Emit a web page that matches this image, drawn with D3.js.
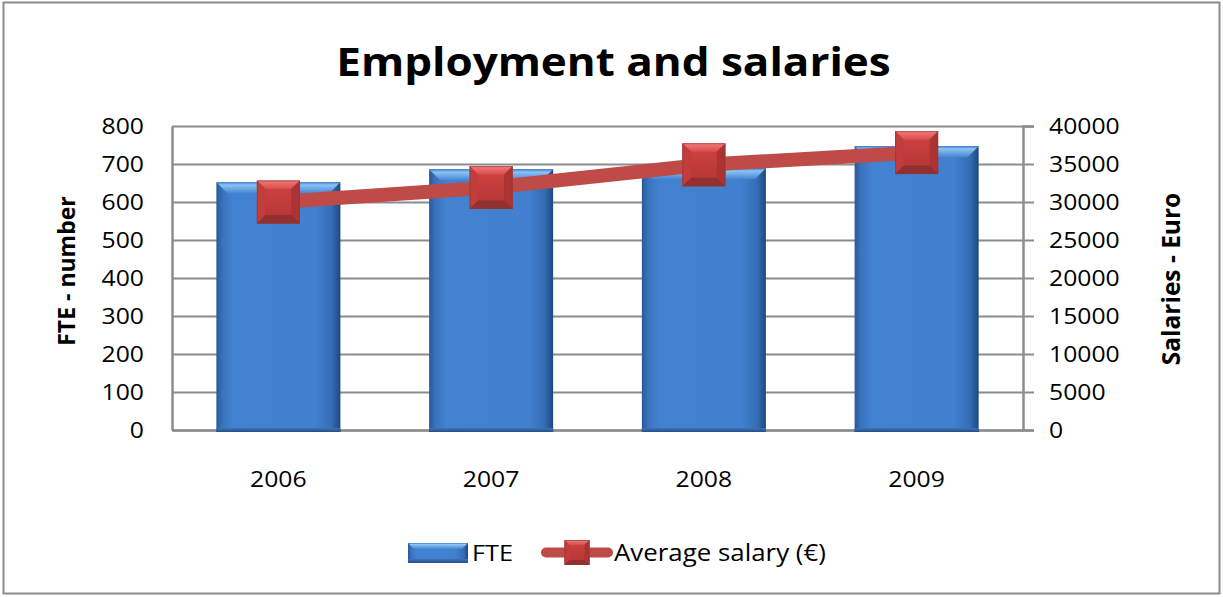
<!DOCTYPE html>
<html>
<head>
<meta charset="utf-8">
<script src="https://cdn.jsdelivr.net/npm/d3@7"></script>
<style>
  html, body { margin: 0; padding: 0; background: #fff; }
  svg { display: block; font-family: "Open Sans", "Liberation Sans", sans-serif; }
</style>
</head>
<body>
<svg id="chart" width="1223" height="597"></svg>
<script>
// Data
const years = ["2006", "2007", "2008", "2009"];
const fte = [652, 686, 689, 747];
const salary = [30000, 31900, 34900, 36500];
const fteTicks = [0, 100, 200, 300, 400, 500, 600, 700, 800];
const salaryTicks = [0, 5000, 10000, 15000, 20000, 25000, 30000, 35000, 40000];

const W = 1223, H = 597;
const plot = { left: 172, right: 1023, top: 126, bottom: 430 };
const SX = 1.15; // horizontal text stretch

const svg = d3.select("#chart");
const defs = svg.append("defs");

// Bar body: dark edges, bright middle
const gBar = defs.append("linearGradient").attr("id", "barBody")
  .attr("x1", 0).attr("x2", 1).attr("y1", 0).attr("y2", 0);
[["0%", "#2a5a96"], ["5%", "#3a72bd"], ["14%", "#4282d1"], ["80%", "#4080cf"], ["93%", "#356db4"], ["100%", "#1d4880"]]
  .forEach(([o, c]) => gBar.append("stop").attr("offset", o).attr("stop-color", c));
const gTop = defs.append("linearGradient").attr("id", "barTop")
  .attr("x1", 0).attr("x2", 0).attr("y1", 0).attr("y2", 1);
[["0%", "#3f7cc8"], ["25%", "#8cc4f5"], ["100%", "#4784d3"]]
  .forEach(([o, c]) => gTop.append("stop").attr("offset", o).attr("stop-color", c));
const gBottom = defs.append("linearGradient").attr("id", "barBottom")
  .attr("x1", 0).attr("x2", 0).attr("y1", 0).attr("y2", 1);
[["0%", "#3d73b8"], ["100%", "#254f86"]]
  .forEach(([o, c]) => gBottom.append("stop").attr("offset", o).attr("stop-color", c));

// Marker bevels
const gMTop = defs.append("linearGradient").attr("id", "mkTop")
  .attr("x1", 0).attr("x2", 0).attr("y1", 0).attr("y2", 1);
[["0%", "#f47c7a"], ["100%", "#d64c4a"]]
  .forEach(([o, c]) => gMTop.append("stop").attr("offset", o).attr("stop-color", c));
const gMBody = defs.append("linearGradient").attr("id", "mkBody")
  .attr("x1", 0).attr("x2", 0).attr("y1", 0).attr("y2", 1);
[["0%", "#cf4241"], ["100%", "#b33535"]]
  .forEach(([o, c]) => gMBody.append("stop").attr("offset", o).attr("stop-color", c));

// Outer frame
svg.append("rect").attr("x", 3.5).attr("y", 2.5).attr("width", W - 7).attr("height", H - 6)
  .attr("fill", "#fff").attr("stroke", "#8c8c8c").attr("stroke-width", 2);

// Scales
const x = d3.scaleBand().domain(years).range([plot.left, plot.right])
  .paddingInner(0.417).paddingOuter(0.2085);
const yL = d3.scaleLinear().domain([0, 800]).range([plot.bottom, plot.top]);
const yR = d3.scaleLinear().domain([0, 40000]).range([plot.bottom, plot.top]);

// Gridlines
svg.append("g").attr("class", "grid")
  .attr("transform", `translate(${plot.left},0)`)
  .call(d3.axisLeft(yL).tickValues(fteTicks).tickSize(-(plot.right - plot.left)).tickFormat(""))
  .call(g => g.select(".domain").remove())
  .call(g => g.selectAll("line").attr("stroke", "#8c8c8c").attr("stroke-width", 2));

// Stretched text helper
function label(parent, tx, ty, str, opts = {}) {
  return parent.append("text")
    .attr("transform", `translate(${tx},${ty}) scale(${opts.sx || SX},1)`)
    .attr("text-anchor", opts.anchor || "start")
    .attr("font-size", opts.size || 21.5)
    .attr("font-weight", opts.weight || "normal")
    .attr("fill", "#000")
    .text(str);
}

// Left axis
const axL = svg.append("g").attr("transform", `translate(${plot.left},0)`)
  .call(d3.axisLeft(yL).tickValues(fteTicks).tickSize(0).tickFormat(""));
axL.select(".domain").attr("stroke", "#8c8c8c").attr("stroke-width", 2.5);
fteTicks.forEach(v => label(svg, 144, yL(v) + 8, d3.format("d")(v), { anchor: "end" }));

// Right axis
const axR = svg.append("g").attr("transform", `translate(${plot.right},0)`)
  .call(d3.axisRight(yR).tickValues(salaryTicks).tickSize(11).tickFormat(""));
axR.select(".domain").attr("stroke", "#8c8c8c").attr("stroke-width", 2.5);
axR.selectAll(".tick line").attr("stroke", "#8c8c8c").attr("stroke-width", 2);
salaryTicks.forEach(v => label(svg, 1049, yR(v) + 8, d3.format("d")(v)));

// Bottom axis
const axB = svg.append("g").attr("transform", `translate(0,${plot.bottom})`)
  .call(d3.axisBottom(x).tickSize(0).tickFormat(""));
axB.select(".domain").attr("stroke", "#8c8c8c").attr("stroke-width", 2.5);
years.forEach(yr => label(svg, x(yr) + x.bandwidth() / 2, 487, yr, { anchor: "middle" }));

// 3D-style bar
function drawBar(g, bx, by, bw, bh, bevel) {
  g.append("rect").attr("x", bx).attr("y", by).attr("width", bw).attr("height", bh)
    .attr("fill", "url(#barBody)");
  const b = Math.min(bevel, bh / 2);
  g.append("path")
    .attr("d", `M${bx},${by}H${bx + bw}L${bx + bw - b},${by + b}H${bx + b}Z`)
    .attr("fill", "url(#barTop)");
  const bb = Math.min(4, bh / 4);
  g.append("rect").attr("x", bx).attr("y", by + bh - bb).attr("width", bw).attr("height", bb)
    .attr("fill", "url(#barBottom)");
}

const bars = svg.append("g").attr("class", "bars");
years.forEach((yr, i) => {
  drawBar(bars, x(yr), yL(fte[i]), x.bandwidth(), plot.bottom + 2 - yL(fte[i]), 11);
});

// Salary line
const cx = yr => x(yr) + x.bandwidth() / 2;
const line = d3.line().x((d, i) => cx(years[i])).y(d => yR(d));
svg.append("path").datum(salary).attr("d", line)
  .attr("fill", "none").attr("stroke", "#be4b48").attr("stroke-width", 14)
  .attr("stroke-linejoin", "round");

// Beveled square marker
function drawMarker(g, mx, my, s) {
  const h = s / 2, b = s * 0.2;
  const x0 = mx - h, x1 = mx + h, y0 = my - h, y1 = my + h;
  g.append("rect").attr("x", x0).attr("y", y0).attr("width", s).attr("height", s)
    .attr("fill", "url(#mkBody)");
  g.append("path").attr("d", `M${x0},${y0}H${x1}L${x1 - b},${y0 + b}H${x0 + b}Z`).attr("fill", "url(#mkTop)");
  g.append("path").attr("d", `M${x0},${y0}L${x0 + b},${y0 + b}V${y1 - b}L${x0},${y1}Z`).attr("fill", "#c23c3b");
  g.append("path").attr("d", `M${x1},${y0}L${x1 - b},${y0 + b}V${y1 - b}L${x1},${y1}Z`).attr("fill", "#ab3332");
  g.append("path").attr("d", `M${x0},${y1}H${x1}L${x1 - b},${y1 - b}H${x0 + b}Z`).attr("fill", "#923030");
  g.append("rect").attr("x", x0 + 0.5).attr("y", y0 + 0.5).attr("width", s - 1).attr("height", s - 1)
    .attr("fill", "none").attr("stroke", "#8a3a3a").attr("stroke-opacity", 0.6);
}
const markers = svg.append("g").attr("class", "markers");
salary.forEach((v, i) => drawMarker(markers, cx(years[i]), yR(v), 43));

// Title
label(svg, W / 2 + 2, 76, "Employment and salaries", { anchor: "middle", size: 40, weight: "bold", sx: 1.1 });

// Axis titles
svg.append("text")
  .attr("transform", `translate(66,271) rotate(-90)`)
  .attr("text-anchor", "middle").attr("dominant-baseline", "central")
  .attr("font-size", 23).attr("font-weight", "bold").text("FTE - number");
svg.append("text")
  .attr("transform", `translate(1170,279) rotate(-90)`)
  .attr("text-anchor", "middle").attr("dominant-baseline", "central")
  .attr("font-size", 24.5).attr("font-weight", "bold").text("Salaries - Euro");

// Legend
const lg = svg.append("g").attr("class", "legend");
drawBar(lg, 408, 543, 60, 20, 6);
label(lg, 472, 561, "FTE", { size: 22 });
lg.append("line").attr("x1", 546).attr("x2", 608).attr("y1", 552.5).attr("y2", 552.5)
  .attr("stroke", "#be4b48").attr("stroke-width", 10).attr("stroke-linecap", "round");
drawMarker(lg, 577, 552.5, 25);
label(lg, 614, 561, "Average salary (€)", { size: 23, sx: 1.125 });
</script>
</body>
</html>
